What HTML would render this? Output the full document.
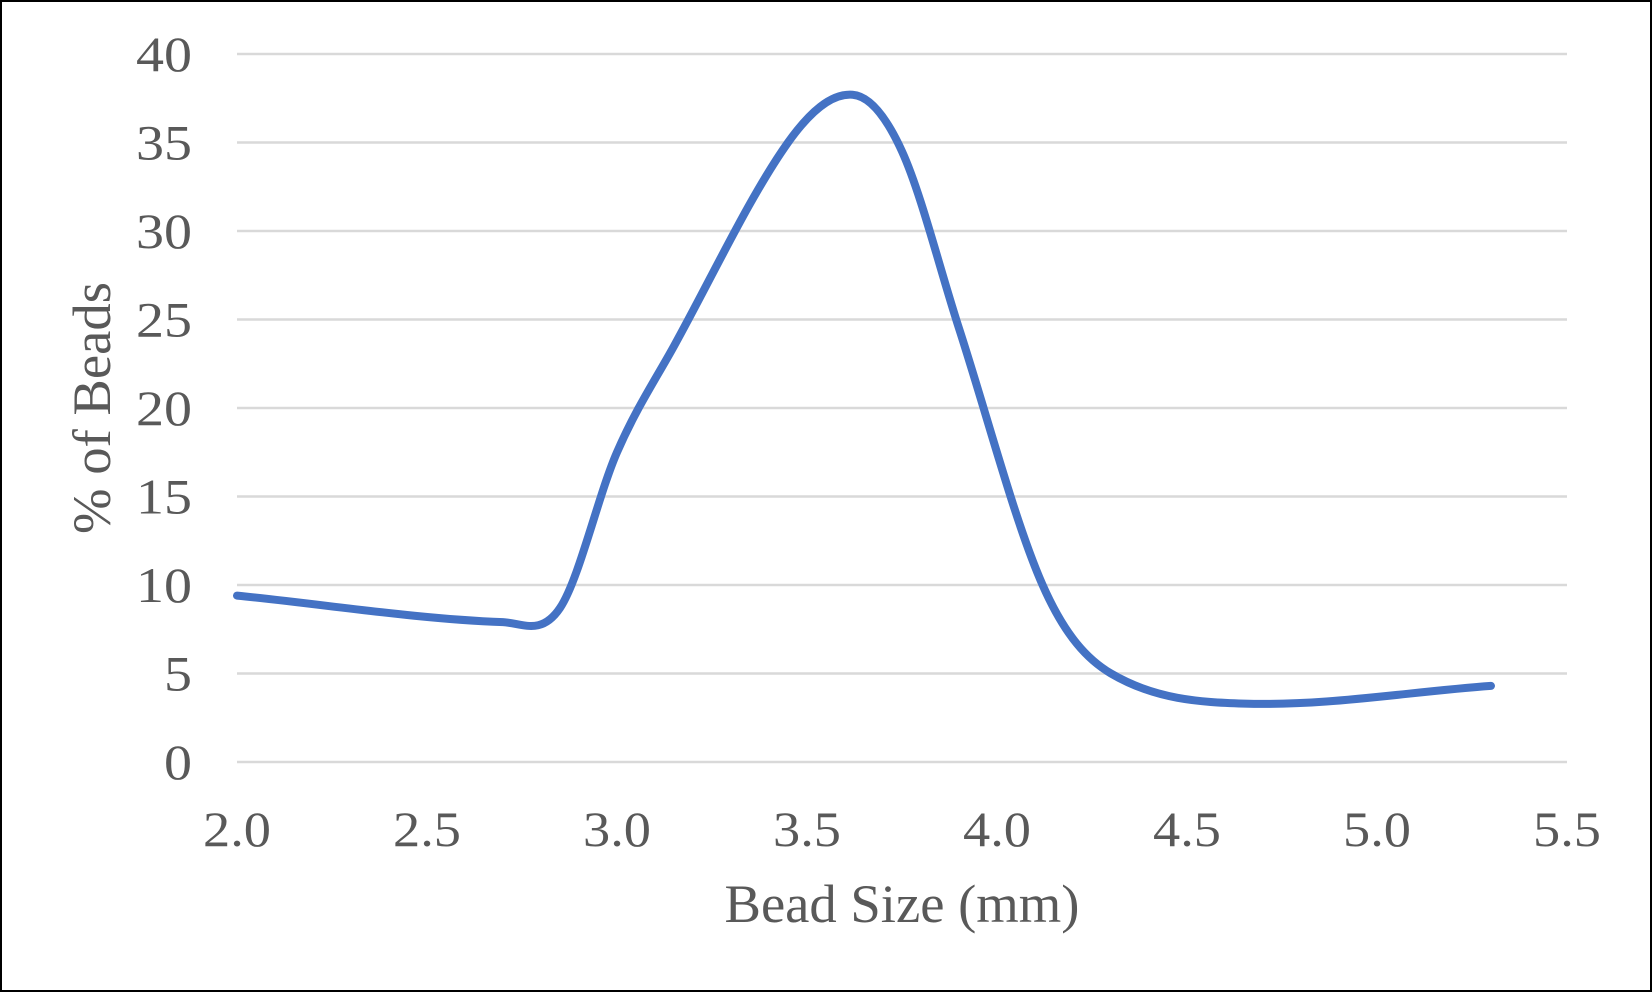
<!DOCTYPE html>
<html><head><meta charset="utf-8"><style>
html,body{margin:0;padding:0;background:#fff}
svg{display:block}
text{font-family:"Liberation Serif",serif;fill:#595959}
</style></head><body>
<svg id="chart" width="1652" height="992">
<rect x="1" y="1" width="1650" height="990" fill="#fff" stroke="#000" stroke-width="2"/>
<g id="grid"></g><g id="yt"></g><g id="xt"></g><g id="series"></g>
<text x="902" y="922" font-size="54" text-anchor="middle" textLength="355" lengthAdjust="spacingAndGlyphs">Bead Size (mm)</text>
<text transform="translate(110,408) rotate(-90)" font-size="54" text-anchor="middle" textLength="252" lengthAdjust="spacingAndGlyphs">% of Beads</text>
</svg>
<script>
const xs=[2.0,2.7,2.85,3.0,3.15,3.45,3.62,3.75,3.9,4.12,4.3,4.65,5.3];
const ys=[9.4,7.9,8.7,17.5,23.5,35,37.7,34.5,24.5,10,5.0,3.3,4.3];
const yTicks=[0,5,10,15,20,25,30,35,40];
const xTicks=["2.0","2.5","3.0","3.5","4.0","4.5","5.0","5.5"];
const NS="http://www.w3.org/2000/svg";
const X0=237,X1=1567,Y0=762,Y1=54;
const xS=v=>X0+(v-2)/(5.5-2)*(X1-X0);
const yS=v=>Y0-v/40*(Y0-Y1);
function mk(t,a,p){const e=document.createElementNS(NS,t);for(const k in a)e.setAttribute(k,a[k]);document.getElementById(p).appendChild(e);return e;}
yTicks.forEach(v=>{
 const l=mk('line',{x1:X0,x2:X1,y1:yS(v),y2:yS(v),stroke:'#d9d9d9','stroke-width':2.5},'grid');
 
 
 const w=String(v).length*28;
 const t=mk('text',{x:192,y:yS(v)+17,'font-size':50,'text-anchor':'end',textLength:w,lengthAdjust:'spacingAndGlyphs'},'yt');t.textContent=v;
 
 
});
xTicks.forEach(s=>{
 const t=mk('text',{x:xS(parseFloat(s)),y:846,'font-size':50,'text-anchor':'middle',textLength:68,lengthAdjust:'spacingAndGlyphs'},'xt');t.textContent=s;
 
 
});
// non-uniform Hermite spline
const n=xs.length, m=[];
for(let i=0;i<n;i++){
 const a=Math.max(0,i-1), b=Math.min(n-1,i+1);
 m.push((ys[b]-ys[a])/(xs[b]-xs[a]));
}
let d='M'+xS(xs[0])+','+yS(ys[0]);
for(let i=0;i<n-1;i++){
 const h=xs[i+1]-xs[i];
 const c1x=xs[i]+h/3, c1y=ys[i]+m[i]*h/3;
 const c2x=xs[i+1]-h/3, c2y=ys[i+1]-m[i+1]*h/3;
 d+=' C'+xS(c1x)+','+yS(c1y)+' '+xS(c2x)+','+yS(c2y)+' '+xS(xs[i+1])+','+yS(ys[i+1]);
}
const path=mk('path',{d:d,fill:'none',stroke:'#4472C4','stroke-width':8,'stroke-linecap':'round','stroke-linejoin':'round'},'series');


</script>
</body></html>
